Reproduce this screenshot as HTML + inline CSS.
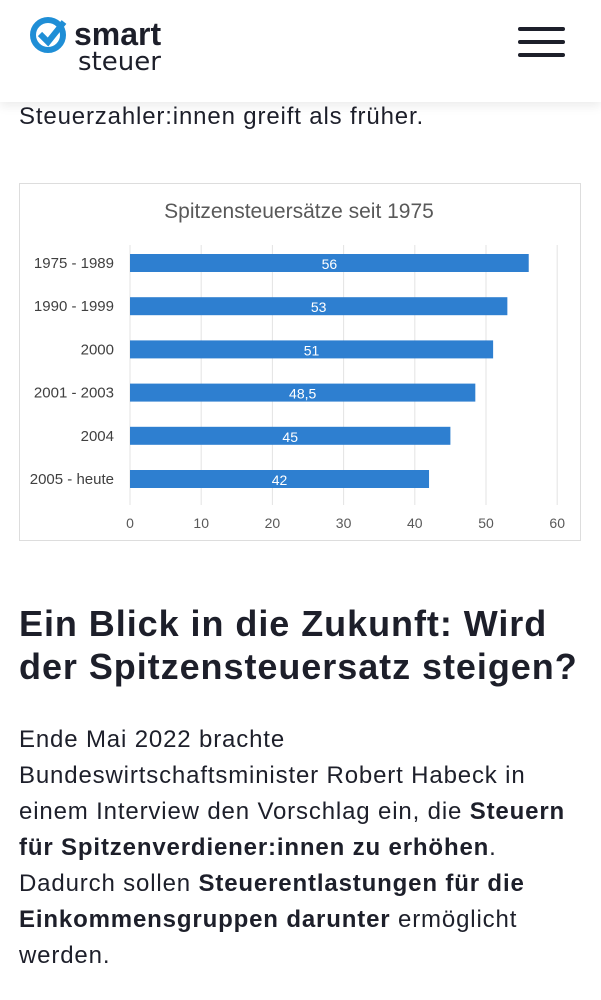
<!DOCTYPE html>
<html><head><meta charset="utf-8">
<style>
body{margin:0;width:601px;height:1000px;background:#fff;font-family:"Liberation Sans",sans-serif;color:#1d1f2a;position:relative;overflow:hidden}
.hdr{position:absolute;left:0;top:0;width:601px;height:102px;background:#fff;box-shadow:0 4px 10px rgba(0,0,0,0.08);z-index:2}
.t{position:absolute;left:19px;margin:0;white-space:nowrap}
.p{font-size:24px;line-height:36px;letter-spacing:0.85px}
h2{font-size:36px;line-height:43px;font-weight:bold;letter-spacing:0.95px}
</style></head><body>
<div class="hdr">
 <svg style="position:absolute;left:28px;top:14px" width="160" height="60">
  <circle cx="20" cy="21" r="15" fill="none" stroke="#1f8ed6" stroke-width="6"/>
  <path d="M12 20 L20 28 L36 8" fill="none" stroke="#1f8ed6" stroke-width="6"/>
  <text x="46" y="31" font-family="Liberation Sans" font-weight="bold" font-size="32" fill="#1d1f2a">smart</text>
  <text x="50" y="56" font-family="DejaVu Sans" font-size="26" fill="#1d1f2a">steuer</text>
 </svg>
 <div style="position:absolute;left:518px;top:27px;width:47px;height:32px">
  <div style="height:4px;background:#1d1f2a;border-radius:2px;margin-bottom:9px"></div>
  <div style="height:4px;background:#1d1f2a;border-radius:2px;margin-bottom:9px"></div>
  <div style="height:4px;background:#1d1f2a;border-radius:2px"></div>
 </div>
</div>
<p class="t p" style="top:99px">Steuerzahler:innen greift als früher.</p>
<svg id="chart" style="position:absolute;left:19px;top:183px" width="562" height="358"></svg>
<h2 class="t" style="top:602px">Ein Blick in die Zukunft: Wird<br>der Spitzensteuersatz steigen?</h2>
<p class="t p" style="top:722px">Ende Mai 2022 brachte<br>Bundeswirtschaftsminister Robert Habeck in<br>einem Interview den Vorschlag ein, die <b>Steuern</b><br><b>für Spitzenverdiener:innen zu erhöhen</b>.<br>Dadurch sollen <b>Steuerentlastungen für die</b><br><b>Einkommensgruppen darunter</b> ermöglicht<br>werden.</p>
<script>
const categories=["1975 - 1989","1990 - 1999","2000","2001 - 2003","2004","2005 - heute"];
const values=[56,53,51,48.5,45,42];
const valueLabels=["56","53","51","48,5","45","42"];
const ticks=[0,10,20,30,40,50,60];
const svg=document.getElementById('chart');
const NS="http://www.w3.org/2000/svg";
function mk(t,a,txt){const e=document.createElementNS(NS,t);for(const k in a)e.setAttribute(k,a[k]);if(txt!=null)e.textContent=txt;svg.appendChild(e);return e;}
const x=v=>111+v*7.12;
const y=i=>80+i*43.2;
let e=mk('rect',{x:0.5,y:0.5,width:561,height:357,fill:'#fff',stroke:'#ddd'});


e=mk('text',{x:280,y:35,'text-anchor':'middle','font-size':21,fill:'#595959'},'Spitzensteuersätze seit 1975');


ticks.forEach(t=>{
 e=mk('line',{x1:x(t),x2:x(t),y1:62,y2:322,stroke:'#e3e3e3'});
 
 
 e=mk('text',{x:x(t),y:345,'text-anchor':'middle','font-size':14,fill:'#595959'},t);
 
 
});
categories.forEach((c,i)=>{
 e=mk('text',{x:95,y:y(i)+5,'text-anchor':'end','font-size':15,fill:'#404040'},c);
 
 
 e=mk('rect',{x:x(0),y:y(i)-9,width:x(values[i])-x(0),height:18,fill:'#2e7fd0'});
 
 
 e=mk('text',{x:(x(0)+x(values[i]))/2,y:y(i)+6,'text-anchor':'middle','font-size':14,fill:'#fff'},valueLabels[i]);
 
 
});
</script>
</body></html>
